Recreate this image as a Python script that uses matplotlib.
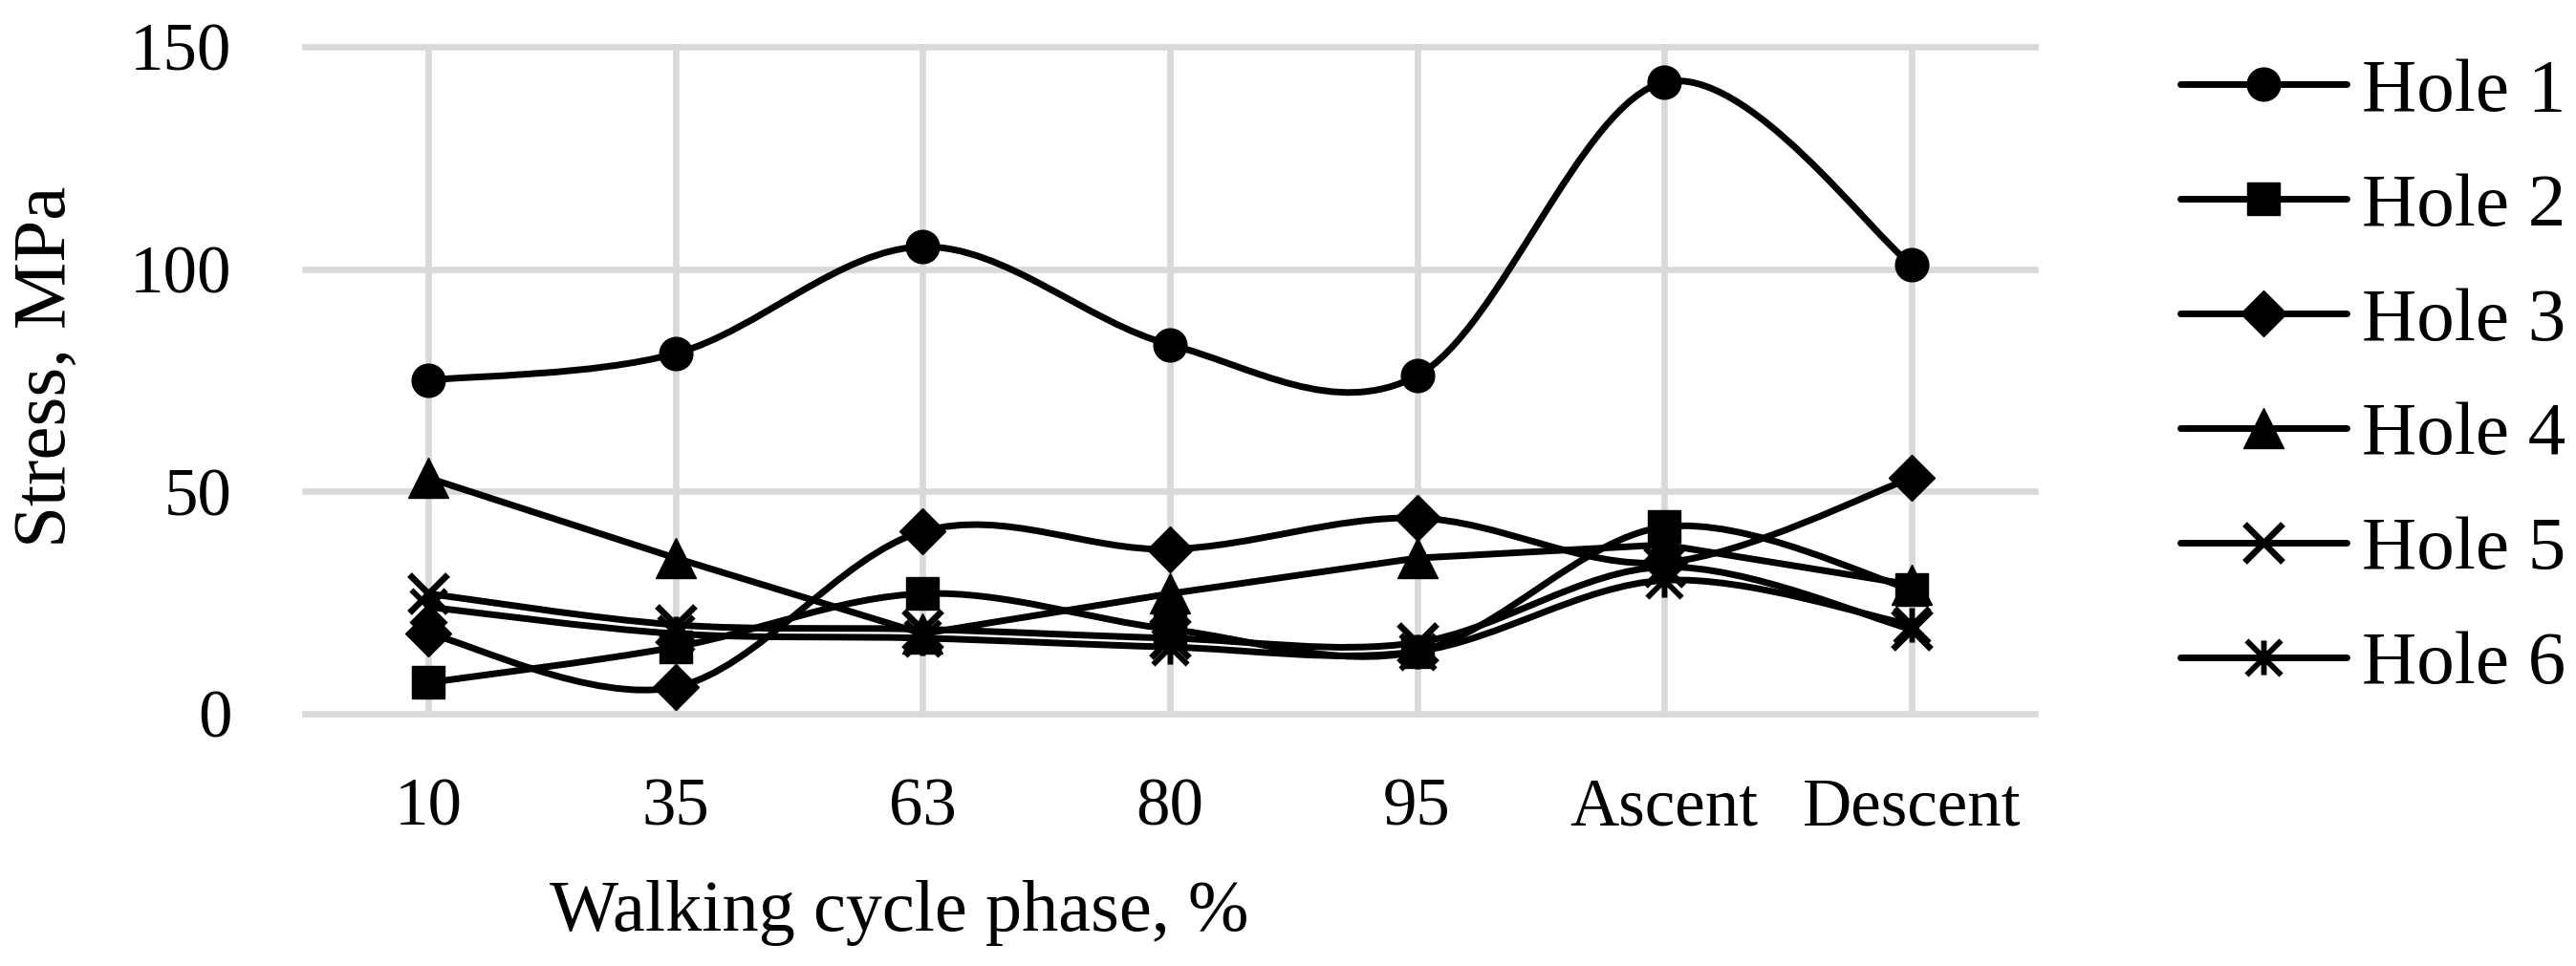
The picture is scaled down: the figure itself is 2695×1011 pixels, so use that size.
import numpy as np
import matplotlib

matplotlib.use("Agg")
import matplotlib.pyplot as plt
from matplotlib.path import Path
from matplotlib.patches import PathPatch
from matplotlib.lines import Line2D

# values (MPa)
PHASES = ["10", "35", "63", "80", "95", "Ascent", "Descent"]
HOLE_1 = [75, 81, 105, 83, 76, 142, 101]
HOLE_2 = [7, 15, 27, 19, 14, 42, 28]
HOLE_3 = [18, 6, 41, 37, 44, 34, 53]
HOLE_4 = [53, 35, 18, 27, 35, 38, 29]
HOLE_5 = [27, 20, 19, 17, 16, 33, 19]
HOLE_6 = [24, 18, 17, 15, 14, 30, 20]
LABELS = ["Hole 1", "Hole 2", "Hole 3", "Hole 4", "Hole 5", "Hole 6"]

# asterisk marker: vertical bar plus a diagonal cross (Excel "star")
STAR = Path(
    [(0, -1), (0, 1), (-1, -1), (1, 1), (-1, 1), (1, -1)],
    [Path.MOVETO, Path.LINETO, Path.MOVETO, Path.LINETO, Path.MOVETO, Path.LINETO],
)

STYLES = [
    dict(marker="o", ms=25, mew=1, smooth=True),
    dict(marker="s", ms=24, mew=1, smooth=True),
    dict(marker="D", ms=24, mew=1, smooth=True),
    dict(marker="^", ms=30, mew=1, smooth=False),
    dict(marker="x", ms=29, mew=4.8, smooth=True),
    dict(marker=STAR, ms=26, mew=4.2, smooth=True),
]

LW = 5
FONT = "Liberation Serif"

plt.rcParams.update({"font.family": FONT})


def smooth_path(x, y):
    # Excel-like smoothed line: cubic Bezier segments, Catmull-Rom tangents
    pts = np.column_stack([x, y]).astype(float)
    n = len(pts)
    verts = [pts[0]]
    codes = [Path.MOVETO]
    for i in range(n - 1):
        p0 = pts[max(i - 1, 0)]
        p1 = pts[i]
        p2 = pts[i + 1]
        p3 = pts[min(i + 2, n - 1)]
        c1 = p1 + (p2 - p0) / 6.0
        c2 = p2 - (p3 - p1) / 6.0
        verts += [c1, c2, p2]
        codes += [Path.CURVE4] * 3
    return Path(verts, codes)


fig = plt.figure(figsize=(26.95, 10.11), dpi=100)
ax = fig.add_axes([0.11837, 0.26113, 0.67161, 0.69061])

x = np.arange(len(PHASES))
series = [HOLE_1, HOLE_2, HOLE_3, HOLE_4, HOLE_5, HOLE_6]

handles = []
for vals, st, lab in zip(series, STYLES, LABELS):
    if st["smooth"]:
        patch = PathPatch(
            smooth_path(x, vals), facecolor="none", edgecolor="black",
            lw=LW, capstyle="round", joinstyle="round", clip_on=False, zorder=3,
        )
        ax.add_patch(patch)
    else:
        ax.plot(x, vals, color="black", lw=LW, solid_joinstyle="round",
                clip_on=False, zorder=3)
    ax.plot(x, vals, ls="none", marker=st["marker"], ms=st["ms"],
            mew=st["mew"], color="black", mfc="black", mec="black",
            clip_on=False, zorder=4)
    handles.append(Line2D([], [], color="black", lw=LW, marker=st["marker"],
                          ms=st["ms"], mew=st["mew"], mfc="black", mec="black",
                          solid_capstyle="round", label=lab))

ax.set_xlim(-0.5, len(PHASES) - 0.5)
ax.set_ylim(0, 150)
ax.set_xticks(x)
ax.set_xticklabels(PHASES)
ax.set_yticks([0, 50, 100, 150])

ax.grid(True, color="#d9d9d9", lw=4.8)
ax.set_axisbelow(True)
for gl in ax.get_xgridlines() + ax.get_ygridlines():
    gl.set_clip_on(False)
for sp in ax.spines.values():
    sp.set_visible(False)

ax.tick_params(axis="both", length=0, labelsize=51)
ax.tick_params(axis="x", pad=48)
ax.tick_params(axis="y", pad=55)

fig.text(0.0182, 0.620, "Stress, MPa", rotation=90, ha="center", va="center",
         fontsize=57)
fig.text(0.349, 0.0366, "Walking cycle phase, %", ha="center", va="baseline",
         fontsize=55)

fig.legend(handles=handles, loc="center left", bbox_to_anchor=(0.8464, 0.608),
           frameon=False, fontsize=57, handlelength=2.2, handletextpad=0.2,
           labelspacing=0.6, borderpad=0, borderaxespad=0)

fig.savefig("out.png", dpi=100)
